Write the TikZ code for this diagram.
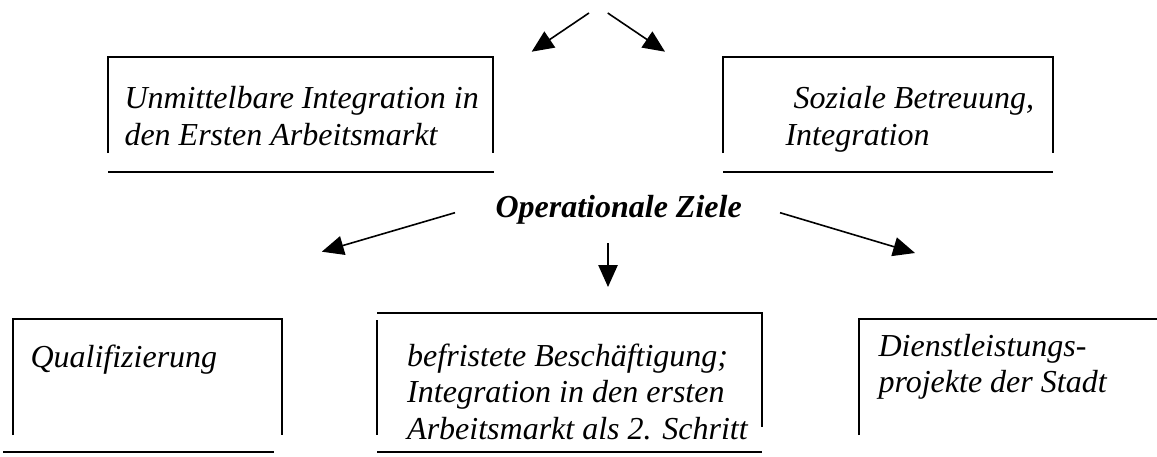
\documentclass[tikz,border=0pt]{standalone}
\usepackage{fontspec}
\setmainfont{Liberation Serif}
\usetikzlibrary{arrows.meta}
\begin{document}
\begin{tikzpicture}[x=0.375pt,y=-0.375pt,
  boxline/.style={line width=0.75pt},
  conn/.style={line width=0.6pt,-{Triangle[length=8.2pt,width=7.2pt]}},
  lbl/.style={inner sep=0pt,anchor=base west,font=\fontsize{12}{13.8}\selectfont\itshape},
  head/.style={inner sep=0pt,anchor=base west,font=\fontsize{12}{13.8}\selectfont\bfseries\itshape}]
\useasboundingbox (0,0) rectangle (1157,456);
% boxes
\draw[boxline] (108,153) -- (108,57) -- (493,57) -- (493,153);
\draw[boxline] (108,171.7) -- (494,171.7);
\draw[boxline] (723,153) -- (723,57) -- (1053,57) -- (1053,153);
\draw[boxline] (723,171.7) -- (1053,171.7);
\draw[boxline] (13,435) -- (13,318.5) -- (282,318.5) -- (282,435);
\draw[boxline] (3,451.7) -- (274,451.7);
\draw[boxline] (377,313.3) -- (762,313.3) -- (762,427);
\draw[boxline] (377,320) -- (377,435);
\draw[boxline] (377,452) -- (762,452);
\draw[boxline] (859,435) -- (859,318.5) -- (1157,318.5);
% texts
\node[lbl] (tl) at (124,108.3) {\vtop{\hbox{Unmittelbare Integration in}\hbox{den Ersten Arbeitsmarkt}}};
\node[lbl] (tr) at (785,108.3) {\vtop{\hbox{\kern3pt Soziale Betreuung,}\hbox{Integration}}};
\node[head] (oz) at (495,217.5) {Operationale Ziele};
\node[lbl] (q) at (30,367) {Qualifizierung};
\node[lbl] (m) at (406.7,366) {\vtop{\hbox{befristete Besch\"aftigung;}\hbox{Integration in den ersten}\hbox{Arbeitsmarkt als 2. Schritt}}};
\node[lbl] (d) at (878,356) {\vtop{\hbox{Dienstleistungs-}\hbox{projekte der Stadt}}};
% arrow end points
\coordinate (a1s) at (589,13);   \coordinate (a1e) at (531.7,51.7);
\coordinate (a2s) at (607.7,13); \coordinate (a2e) at (665,51.7);
\coordinate (a3s) at (455,212.7); \coordinate (a3e) at (321.8,251.7);
\coordinate (a4s) at (608,243);  \coordinate (a4e) at (608,287);
\coordinate (a5s) at (780,212.7); \coordinate (a5e) at (915,253);
\draw[conn] (a1s) -- (a1e);
\draw[conn] (a2s) -- (a2e);
\draw[conn] (a3s) -- (a3e);
\draw[conn] (a4s) -- (a4e);
\draw[conn] (a5s) -- (a5e);
\end{tikzpicture}
\end{document}
